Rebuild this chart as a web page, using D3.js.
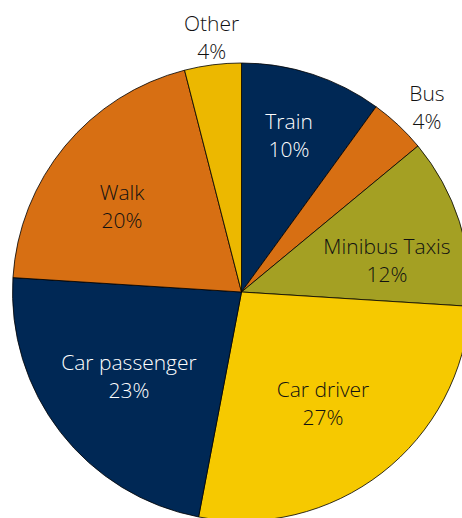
<!DOCTYPE html>
<html>
<head>
<meta charset="utf-8">
<script src="https://cdn.jsdelivr.net/npm/d3@7"></script>
<style>
  html, body { margin: 0; padding: 0; background: #ffffff; }
  svg { display: block; }
</style>
</head>
<body>
<svg id="chart" width="462" height="518"></svg>
<script>
// ---- data ----
const categories = ["Train", "Bus", "Minibus Taxis", "Car driver", "Car passenger", "Walk", "Other"];
const shares = [10, 4, 12, 27, 23, 20, 4];
const percentLabels = ["10%", "4%", "12%", "27%", "23%", "20%", "4%"];

// ---- styling / layout (not data) ----
const sliceColors = ["#002855", "#d76f13", "#a4a023", "#f6c900", "#002855", "#d76f13", "#ecb800"];
const textColors = ["#ffffff", "#111111", "#111111", "#111111", "#ffffff", "#111111", "#111111"];
// label placement: radius factor and angular nudge (degrees) from slice middle
const labelRadius = [0.683, 1.12, 0.644, 0.628, 0.635, 0.622, 1.086];
const labelNudge = [-0.3, 3.1, 8.6, 3.3, -1.5, -6.6, 0.3];

const width = 462, height = 518;
const cx = 241.5, cy = 292, R = 229;

const svg = d3.select("#chart");
const g = svg.append("g").attr("transform", `translate(${cx},${cy})`);

const pie = d3.pie().sort(null).value(d => d.value);
const arcs = pie(categories.map((c, i) => ({ name: c, value: shares[i], i })));
const arc = d3.arc().innerRadius(0).outerRadius(R);

g.selectAll("path.slice")
  .data(arcs)
  .enter().append("path")
  .attr("class", "slice")
  .attr("d", arc)
  .attr("fill", d => sliceColors[d.data.i])
  .attr("stroke", "#000000")
  .attr("stroke-width", 0.8)
  .attr("stroke-linejoin", "round");

const labels = g.selectAll("text.lbl")
  .data(arcs)
  .enter().append("text")
  .attr("class", "lbl")
  .attr("text-anchor", "middle")
  .attr("font-family", "'Open Sans', sans-serif")
  .attr("font-weight", 300)
  .attr("font-size", 21)
  .attr("fill", d => textColors[d.data.i])
  .attr("transform", d => {
    const i = d.data.i;
    const a = (d.startAngle + d.endAngle) / 2 + labelNudge[i] * Math.PI / 180;
    const r = labelRadius[i] * R;
    return `translate(${r * Math.sin(a)},${-r * Math.cos(a)})`;
  });

labels.append("tspan").attr("x", 0).attr("y", -14).text(d => d.data.name);
labels.append("tspan").attr("x", 0).attr("y", 14).text(d => percentLabels[d.data.i]);
</script>
</body>
</html>
